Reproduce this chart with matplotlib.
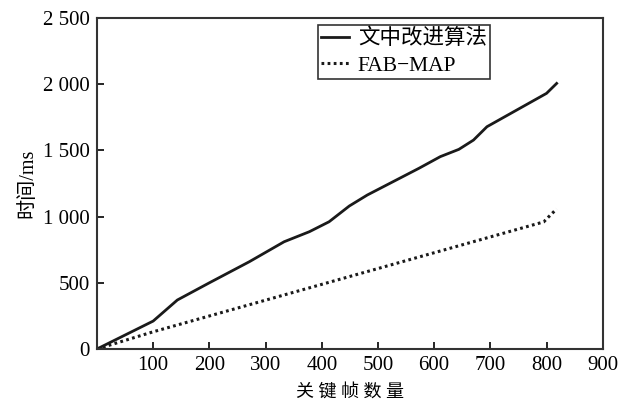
import matplotlib.pyplot as plt
from matplotlib.ticker import FuncFormatter

plt.rcParams['font.family'] = ['Liberation Serif', 'Noto Sans CJK SC']

# improved method (solid)
x_ours = [0, 100, 143, 200, 271, 333, 378, 413, 449, 481, 573, 611, 644, 670, 694, 800, 818]
y_ours = [0, 211, 370, 500, 659, 810, 886, 961, 1080, 1163, 1365, 1453, 1508, 1578, 1679, 1931, 2006]
# FAB-MAP (dotted)
x_fab = [0, 100, 795, 803, 818]
y_fab = [0, 130, 960, 995, 1058]

xticks = [100, 200, 300, 400, 500, 600, 700, 800, 900]
yticks = [0, 500, 1000, 1500, 2000, 2500]

fig = plt.figure(figsize=(6.41, 4.03), dpi=100)
ax = fig.add_axes([0.1513, 0.134, 0.789, 0.8213])

ax.plot(x_ours, y_ours, color="#1a1a1a", lw=2.0, label="文中改进算法")
ax.plot(x_fab, y_fab, color="#1a1a1a", lw=2.2, ls=(0, (0.9, 1.1)), label="FAB−MAP")

ax.set_xlim(0, 900)
ax.set_ylim(0, 2500)
ax.set_xticks(xticks)
ax.set_yticks(yticks)
ax.yaxis.set_major_formatter(FuncFormatter(
    lambda v, p: f"{int(v):,}".replace(",", " ")))
ax.tick_params(direction="in", length=5, width=1.2, labelsize=15, pad=5,
               top=False, right=False)
for s in ax.spines.values():
    s.set_linewidth(1.5)
    s.set_color("#333333")

ax.set_xlabel("关 键 帧 数 量", fontsize=13, labelpad=6)
ax.set_ylabel("时间/ms", fontsize=14.5, labelpad=4)

leg = ax.legend(loc="upper left", bbox_to_anchor=(0.437, 0.978), fontsize=15.5,
                frameon=True, fancybox=False, edgecolor="black",
                handlelength=1.3, handletextpad=0.4, borderpad=0.15,
                labelspacing=0.3, borderaxespad=0)
leg.get_frame().set_linewidth(1.2)

fig.savefig("out.png", dpi=100)
